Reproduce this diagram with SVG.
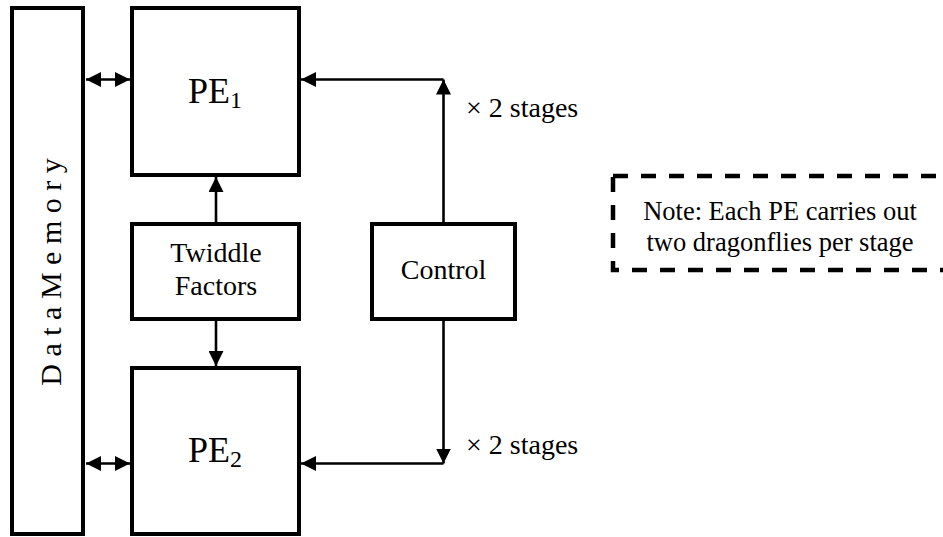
<svg xmlns="http://www.w3.org/2000/svg" width="943" height="537" viewBox="0 0 943 537">
<style>
.box{fill:#fff;stroke:#000;stroke-width:4}
.note{fill:none;stroke:#000;stroke-width:4.5;stroke-dasharray:15 13}
.ln{fill:none;stroke:#000;stroke-width:2.6}
text{font-family:"Liberation Serif","Times New Roman",serif;fill:#000}
.t28{font-size:28px}
.pe{font-size:36px}
.sub{font-size:24px}
</style>
<defs>
<marker id="ah" viewBox="0 0 15 15" refX="15" refY="7.5" markerWidth="15" markerHeight="15" markerUnits="userSpaceOnUse" orient="auto-start-reverse">
<polygon points="0,0 15,7.5 0,15" fill="#000"/>
</marker>
</defs>
<g id="connectors">
<path class="ln" d="M86,79.5 H130" marker-start="url(#ah)" marker-end="url(#ah)"/>
<path class="ln" d="M86,463.5 H130" marker-start="url(#ah)" marker-end="url(#ah)"/>
<path class="ln" d="M216,222 V177" marker-end="url(#ah)"/>
<path class="ln" d="M216,321 V366" marker-end="url(#ah)"/>
<path class="ln" d="M443.5,222 V79.5" marker-end="url(#ah)"/>
<path class="ln" d="M443.5,79.5 H301" marker-end="url(#ah)"/>
<path class="ln" d="M443.5,321 V463.5" marker-end="url(#ah)"/>
<path class="ln" d="M443.5,463.5 H301" marker-end="url(#ah)"/>
</g>
<g id="data-memory">
<rect class="box" x="12" y="8" width="71" height="526"/>
<text class="t28" style="font-size:30px" text-anchor="middle" transform="translate(61,272) rotate(-90)">D a t a M e m o r y</text>
</g>
<g id="pe1">
<rect class="box" x="132" y="8" width="167" height="167"/>
<text x="188" y="103"><tspan class="pe">PE</tspan><tspan class="sub" dy="5">1</tspan></text>
</g>
<g id="pe2">
<rect class="box" x="132" y="368" width="167" height="166"/>
<text x="188" y="462"><tspan class="pe">PE</tspan><tspan class="sub" dy="5">2</tspan></text>
</g>
<g id="twiddle">
<rect class="box" x="132" y="224" width="167" height="95"/>
<text class="t28" x="216" y="262" text-anchor="middle">Twiddle</text>
<text class="t28" x="216" y="295" text-anchor="middle">Factors</text>
</g>
<g id="control">
<rect class="box" x="372" y="224" width="143" height="95"/>
<text class="t28" x="443.5" y="279" text-anchor="middle">Control</text>
</g>
<g id="stages-top">
<text class="t28" x="466" y="117">× 2 stages</text>
</g>
<g id="stages-bottom">
<text class="t28" x="466" y="454">× 2 stages</text>
</g>
<g id="note">
<rect class="note" x="613" y="176" width="334" height="94"/>
<text style="font-size:26.5px" x="780" y="220" text-anchor="middle">Note: Each PE carries out</text>
<text style="font-size:26.5px" x="780" y="251" text-anchor="middle">two dragonflies per stage</text>
</g>
</svg>
